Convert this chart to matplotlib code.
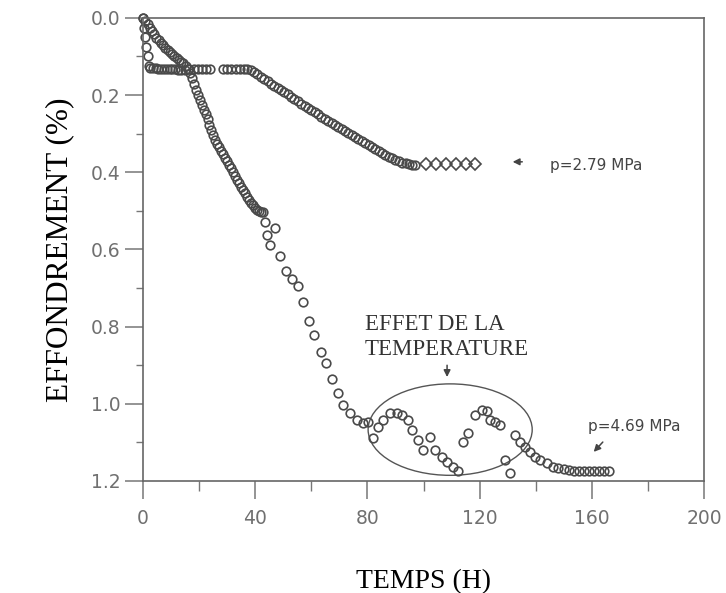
import matplotlib
matplotlib.use("Agg")
import matplotlib.pyplot as plt
from matplotlib.patches import Ellipse
from matplotlib.ticker import MultipleLocator

# ---------------- data ----------------
# p = 2.79 MPa (circles)
t_279 = [0.0, 0.4, 0.8, 1.2, 1.6, 2.0,
         2.5, 3.5, 4.5, 5.5, 6.5, 7.5, 8.5, 9.5, 10.5, 11.5, 12.5, 13.5, 15.0, 16.5,
         18.0, 19.5, 21.0, 22.5, 24.0,
         28.5, 30.0, 31.5, 33.0, 34.5, 36.0,
         37.2, 38.4, 39.6, 40.8, 42.0, 43.2, 44.4, 45.6, 46.8, 48.0, 49.2, 50.4,
         51.6, 52.8, 54.0, 55.2, 56.4, 57.6, 58.8, 60.0, 61.2, 62.4, 63.6, 64.8,
         66.0, 67.2, 68.4, 69.6, 70.8, 72.0, 73.2, 74.4, 75.6, 76.8, 78.0, 79.2,
         80.4, 81.6, 82.8, 84.0, 85.2, 86.4, 87.6, 88.8, 90.0, 91.2, 92.4, 93.6,
         94.8, 96.0, 97.0]
e_279 = [0.000, 0.025, 0.050, 0.075, 0.100, 0.125,
         0.130, 0.131, 0.131, 0.132, 0.132, 0.132, 0.133, 0.133, 0.133, 0.133, 0.134, 0.134, 0.134, 0.133,
         0.133, 0.133, 0.132, 0.132, 0.132,
         0.132, 0.132, 0.132, 0.132, 0.132, 0.132,
         0.133, 0.136, 0.141, 0.146, 0.152, 0.158, 0.164, 0.170, 0.176, 0.181, 0.187, 0.192,
         0.198, 0.204, 0.210, 0.216, 0.222, 0.228, 0.234, 0.239, 0.245, 0.250, 0.256, 0.261,
         0.266, 0.272, 0.277, 0.282, 0.288, 0.293, 0.298, 0.303, 0.309, 0.314, 0.319, 0.324,
         0.330, 0.335, 0.340, 0.345, 0.350, 0.355, 0.360, 0.364, 0.368, 0.372, 0.375, 0.377,
         0.379, 0.380, 0.381]
# p = 2.79 MPa continuation (diamonds)
t_279_d = [101.0, 104.5, 108.0, 111.5, 115.0, 118.5]
e_279_d = [0.378, 0.378, 0.378, 0.378, 0.378, 0.378]

# p = 4.69 MPa (circles)
t_469 = [0.0, 0.8, 1.6, 2.4, 3.2, 4.0, 4.8, 5.6, 6.4, 7.2, 8.0, 8.8, 9.6, 10.4, 11.2,
         12.0, 12.8, 13.6, 14.4, 15.2, 16.0, 16.7, 17.4, 18.1, 18.8, 19.5, 20.2, 20.9,
         21.6, 22.3, 23.0, 23.7, 24.4, 25.1, 25.8, 26.5, 27.2, 27.9, 28.6, 29.3, 30.0,
         30.7, 31.4, 32.1, 32.8, 33.5, 34.2, 34.9, 35.6, 36.3, 37.0, 37.7, 38.4, 39.1,
         39.8, 40.5, 41.2, 41.9, 42.6,
         43.5, 44.1, 45.3, 47.1, 48.8, 51.0, 53.0, 55.1, 57.1, 59.0, 61.1, 63.3, 65.2,
         67.5, 69.4, 71.4, 73.8, 76.2, 78.5, 80.3, 82.1, 83.9, 85.7, 88.1, 90.4, 92.2,
         94.6, 95.8, 98.1, 99.9, 102.3, 104.1, 106.5, 108.3, 110.6, 112.4, 114.2, 116.0,
         118.4, 120.8, 122.5, 123.7, 125.5, 127.3, 129.0, 130.8, 132.6, 134.4, 136.2,
         138.0, 139.8, 141.5, 143.9, 146.3, 148.0, 150.0, 151.8, 153.6, 155.4, 157.2,
         159.0, 160.8, 162.6, 164.4, 166.2]
e_469 = [0.000, 0.008, 0.017, 0.026, 0.035, 0.043, 0.051, 0.058, 0.065, 0.071, 0.077, 0.083,
         0.088, 0.093, 0.098, 0.103, 0.108, 0.113, 0.118, 0.124, 0.132, 0.142, 0.155, 0.170,
         0.186, 0.200, 0.213, 0.225, 0.238, 0.250, 0.263, 0.277, 0.291, 0.304, 0.316, 0.326,
         0.335, 0.344, 0.353, 0.362, 0.371, 0.380, 0.390, 0.400, 0.410, 0.420, 0.429, 0.438,
         0.447, 0.455, 0.463, 0.471, 0.479, 0.486, 0.492, 0.497, 0.500, 0.502, 0.503,
         0.528, 0.562, 0.588, 0.545, 0.617, 0.655, 0.677, 0.696, 0.735, 0.785, 0.822, 0.865,
         0.895, 0.937, 0.973, 1.003, 1.025, 1.042, 1.051, 1.046, 1.089, 1.059, 1.042, 1.025,
         1.025, 1.029, 1.042, 1.068, 1.094, 1.120, 1.085, 1.120, 1.137, 1.150, 1.163, 1.173,
         1.098, 1.077, 1.029, 1.016, 1.020, 1.042, 1.046, 1.055, 1.146, 1.180, 1.081, 1.098,
         1.111, 1.124, 1.137, 1.146, 1.154, 1.163, 1.167, 1.170, 1.172, 1.173, 1.173, 1.173,
         1.173, 1.173, 1.173, 1.173, 1.173]

x_ticks = [0, 40, 80, 120, 160, 200]
y_ticks = [0.0, 0.2, 0.4, 0.6, 0.8, 1.0, 1.2]

# ---------------- figure ----------------
fig = plt.figure(figsize=(7.26, 5.93), dpi=100)
ax = fig.add_axes([0.197, 0.189, 0.7727, 0.7808])

mk = dict(linestyle="none", markerfacecolor="none", markeredgecolor="#4a4a4a",
          markeredgewidth=1.2, clip_on=False)
ax.plot(t_279, e_279, marker="o", markersize=6.2, **mk)
ax.plot(t_279_d, e_279_d, marker="D", markersize=6, **mk)
ax.plot(t_469, e_469, marker="o", markersize=6.2, **mk)

ax.set_xlim(0, 200)
ax.set_ylim(1.2, 0.0)
ax.set_xticks(x_ticks)
ax.set_yticks(y_ticks)
ax.set_yticklabels([f"{v:.1f}" for v in y_ticks])
ax.xaxis.set_minor_locator(MultipleLocator(20))
ax.yaxis.set_minor_locator(MultipleLocator(0.1))

tick_col = "#777777"
for s in ax.spines.values():
    s.set_color("#666666")
    s.set_linewidth(1.2)
ax.tick_params(axis="both", which="major", direction="out", color=tick_col,
               width=1.1, labelcolor="#707070", labelsize=13.5)
ax.tick_params(axis="x", which="major", length=13, pad=7)
ax.tick_params(axis="y", which="major", length=13, pad=3)
ax.tick_params(axis="x", which="minor", direction="out", length=7, width=1.0, color=tick_col)
ax.tick_params(axis="y", which="minor", direction="out", length=5, width=1.0, color=tick_col)
for lab in ax.get_xticklabels() + ax.get_yticklabels():
    lab.set_family("DejaVu Sans")

ax.set_xlabel("TEMPS (H)", family="Liberation Serif", fontsize=20, labelpad=30)
ax.set_ylabel("EFFONDREMENT (%)", family="Liberation Serif", fontsize=22.5, labelpad=12)

# ellipse around temperature effect
ax.add_patch(Ellipse((109.5, 1.067), 58.5, 0.237, fill=False, edgecolor="#555555", linewidth=1.0))

ax.text(79.1, 0.809, "EFFET DE LA", family="Liberation Serif", fontsize=16.5,
        color="#333333", va="baseline", ha="left")
ax.text(79.1, 0.873, "TEMPERATURE", family="Liberation Serif", fontsize=16.5,
        color="#333333", va="baseline", ha="left")
ax.annotate("", xy=(108.4, 0.938), xytext=(108.4, 0.893),
            arrowprops=dict(arrowstyle="-|>", color="#444444", lw=1.1, mutation_scale=10))

ax.text(145.0, 0.382, "p=2.79 MPa", family="DejaVu Sans", fontsize=11,
        color="#444444", va="center", ha="left")
ax.annotate("", xy=(130.8, 0.373), xytext=(136.2, 0.373),
            arrowprops=dict(arrowstyle="-|>", color="#444444", lw=1.1, mutation_scale=10))

ax.text(158.5, 1.060, "p=4.69 MPa", family="DejaVu Sans", fontsize=11,
        color="#444444", va="center", ha="left")
ax.annotate("", xy=(160.0, 1.130), xytext=(164.6, 1.094),
            arrowprops=dict(arrowstyle="-|>", color="#444444", lw=1.1, mutation_scale=10))

fig.savefig("out.png", dpi=100)
